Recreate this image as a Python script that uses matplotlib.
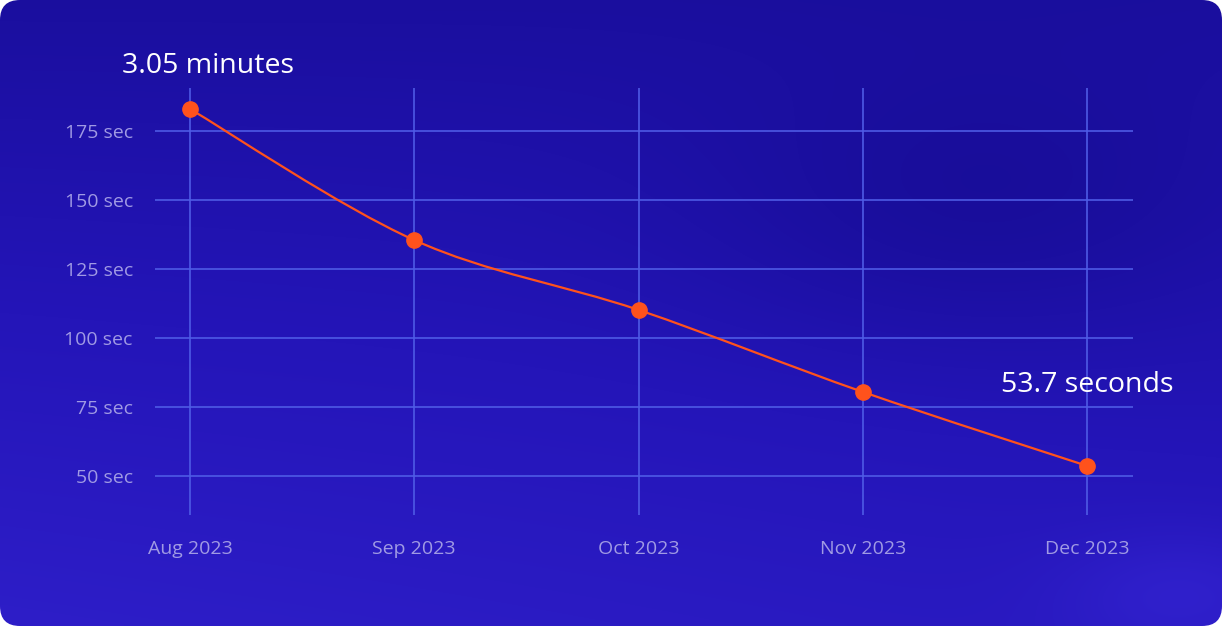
import numpy as np
import matplotlib.pyplot as plt
from matplotlib.patches import FancyBboxPatch, PathPatch
from matplotlib.path import Path
from matplotlib.colors import LinearSegmentedColormap

plt.rcParams['font.family'] = ['Open Sans', 'DejaVu Sans']

# data
months = ['Aug 2023', 'Sep 2023', 'Oct 2023', 'Nov 2023', 'Dec 2023']
seconds = [183.0, 135.5, 110.2, 80.5, 53.7]
y_ticks = [50, 75, 100, 125, 150, 175]
first_label = '3.05 minutes'
last_label = '53.7 seconds'

W, H = 1222, 626
fig = plt.figure(figsize=(W / 100, H / 100), dpi=100)
fig.patch.set_alpha(0)

# background card with a soft gradient
bg = fig.add_axes([0, 0, 1, 1])
bg.set_xlim(0, W)
bg.set_ylim(H, 0)
bg.axis('off')
gx, gy = np.meshgrid(np.linspace(0, 1, 300), np.linspace(0, 1, 160))
blend = 0.55 * gy + 0.25 * (1 - gx) * gy + 0.35 * np.exp(-((gx - 0.97) ** 2 + (gy - 0.95) ** 2) / 0.01)
blend -= 0.25 * np.exp(-((gx - 0.8) ** 2 + (gy - 0.35) ** 2) / 0.05)
cmap = LinearSegmentedColormap.from_list('card', ['#180d98', '#2415b8', '#3020cc'])
img = bg.imshow(blend, extent=(0, W, H, 0), cmap=cmap, aspect='auto',
                vmin=-0.1, vmax=0.9, interpolation='bilinear')
card = FancyBboxPatch((0, 0), W, H, boxstyle='round,pad=0,rounding_size=20',
                      facecolor='none', edgecolor='none')
bg.add_patch(card)
img.set_clip_path(card)

# chart area
ax = fig.add_axes([155 / W, 1 - 515 / H, (1133 - 155) / W, (515 - 88) / H])
ax.patch.set_alpha(0)
x = np.arange(len(months))
ax.set_xlim(-0.156, 4.205)
ax.set_ylim(35.9, 190.6)
ax.set_xticks(x)
ax.set_xticklabels(months)
ax.set_yticks(y_ticks)
ax.set_yticklabels([f'{v} sec' for v in y_ticks])
for s in ax.spines.values():
    s.set_visible(False)
ax.tick_params(length=0, colors='#a09ae4', labelsize=14)
ax.tick_params(axis='x', pad=18)
ax.tick_params(axis='y', pad=16)
ax.grid(True, color='#4f5ce6', linewidth=1.3, alpha=0.9)
ax.set_axisbelow(True)

# smooth line through the points (cubic bezier segments)
verts = [(x[0], seconds[0])]
codes = [Path.MOVETO]
pts = list(zip(x, seconds))
for i in range(len(pts) - 1):
    p0 = pts[max(i - 1, 0)]
    p1 = pts[i]
    p2 = pts[i + 1]
    p3 = pts[min(i + 2, len(pts) - 1)]
    c1 = (p1[0] + (p2[0] - p0[0]) / 6, p1[1] + (p2[1] - p0[1]) / 6)
    c2 = (p2[0] - (p3[0] - p1[0]) / 6, p2[1] - (p3[1] - p1[1]) / 6)
    verts += [c1, c2, p2]
    codes += [Path.CURVE4] * 3
ax.add_patch(PathPatch(Path(verts, codes), facecolor='none', edgecolor='#ff521c',
                       linewidth=1.6, zorder=3))
ax.plot(x, seconds, linestyle='none', marker='o', markersize=11,
        color='#ff521c', zorder=4, clip_on=False)

ax.annotate(first_label, (x[0], seconds[0]), xytext=(13, 31), textcoords='offset points',
            ha='center', va='center', color='white', fontsize=20.5, annotation_clip=False)
ax.annotate(last_label, (x[-1], seconds[-1]), xytext=(0, 58), textcoords='offset points',
            ha='center', va='center', color='white', fontsize=20.5, annotation_clip=False)

fig.savefig('out.png', dpi=100, transparent=True)
